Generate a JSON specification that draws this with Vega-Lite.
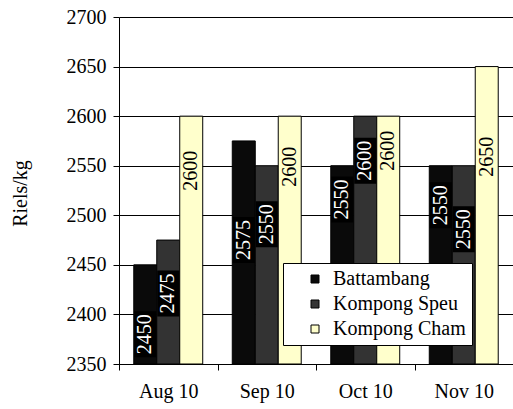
{
  "$schema": "https://vega.github.io/schema/vega-lite/v6.json",
  "autosize": {"type": "none"},
  "padding": {"left": 119, "top": 17, "right": 0, "bottom": 45},
  "width": 394,
  "height": 347,
  "background": "white",
  "config": {
    "view": {"stroke": null},
    "font": "Liberation Serif",
    "axis": {
      "labelFont": "Liberation Serif",
      "labelFontSize": 20,
      "labelColor": "black",
      "titleFont": "Liberation Serif",
      "titleFontSize": 20,
      "titleFontWeight": "normal",
      "titleColor": "black",
      "domainColor": "black",
      "tickColor": "black",
      "tickSize": 6,
      "gridColor": "black",
      "gridOpacity": 1
    },
    "legend": {
      "labelFont": "Liberation Serif",
      "labelFontSize": 20,
      "labelColor": "black"
    }
  },
  "data": {
    "values": [
      {"month": "Aug 10", "region": "Battambang", "price": 2450, "labelAt": 2380},
      {"month": "Aug 10", "region": "Kompong Speu", "price": 2475, "labelAt": 2421},
      {"month": "Aug 10", "region": "Kompong Cham", "price": 2600, "labelAt": 2545},
      {"month": "Sep 10", "region": "Battambang", "price": 2575, "labelAt": 2475},
      {"month": "Sep 10", "region": "Kompong Speu", "price": 2550, "labelAt": 2491},
      {"month": "Sep 10", "region": "Kompong Cham", "price": 2600, "labelAt": 2549},
      {"month": "Oct 10", "region": "Battambang", "price": 2550, "labelAt": 2516},
      {"month": "Oct 10", "region": "Kompong Speu", "price": 2600, "labelAt": 2555},
      {"month": "Oct 10", "region": "Kompong Cham", "price": 2600, "labelAt": 2565},
      {"month": "Nov 10", "region": "Battambang", "price": 2550, "labelAt": 2510},
      {"month": "Nov 10", "region": "Kompong Speu", "price": 2550, "labelAt": 2486},
      {"month": "Nov 10", "region": "Kompong Cham", "price": 2650, "labelAt": 2559}
    ]
  },
  "encoding": {
    "x": {
      "field": "month",
      "type": "nominal",
      "sort": ["Aug 10", "Sep 10", "Oct 10", "Nov 10"],
      "scale": {"paddingInner": 0, "paddingOuter": 0},
      "axis": {
        "title": null,
        "labelAngle": 0,
        "tickBand": "extent",
        "labelPadding": 11
      }
    },
    "xOffset": {
      "field": "region",
      "type": "nominal",
      "sort": ["Battambang", "Kompong Speu", "Kompong Cham"],
      "scale": {"paddingInner": 0, "paddingOuter": 0.643}
    }
  },
  "layer": [
    {
      "mark": {"type": "bar", "stroke": "black", "strokeWidth": 1},
      "encoding": {
        "y": {
          "field": "price",
          "type": "quantitative",
          "scale": {"domain": [2350, 2700], "nice": false, "zero": false},
          "axis": {
            "values": [2350, 2400, 2450, 2500, 2550, 2600, 2650, 2700],
            "format": "d",
            "title": "Riels/kg",
            "titleX": -99,
            "titleY": 176,
            "titleAngle": 270,
            "titleAlign": "center",
            "titleBaseline": "middle",
            "labelPadding": 7,
            "grid": true
          }
        },
        "y2": {"datum": 2350},
        "color": {
          "field": "region",
          "type": "nominal",
          "sort": ["Battambang", "Kompong Speu", "Kompong Cham"],
          "scale": {
            "domain": ["Battambang", "Kompong Speu", "Kompong Cham"],
            "range": ["#0a0a0a", "#333333", "#FFFFCC"]
          },
          "legend": {
            "title": null,
            "orient": "none",
            "legendX": 164,
            "legendY": 246,
            "padding": 6,
            "rowPadding": 5,
            "symbolType": "square",
            "symbolSize": 64,
            "symbolStrokeColor": "black",
            "symbolStrokeWidth": 1,
            "symbolOffset": 16,
            "labelOffset": 8,
            "fillColor": "white",
            "strokeColor": "black",
            "labelExpr": "datum.label + '   '"
          }
        }
      }
    },
    {
      "transform": [{"filter": "datum.region !== 'Kompong Cham'"}],
      "mark": {
        "type": "point",
        "shape": "M-0.48,-1L0.48,-1L0.48,1L-0.48,1Z",
        "filled": true,
        "size": 2116,
        "color": "black",
        "opacity": 1
      },
      "encoding": {
        "y": {"field": "labelAt", "type": "quantitative"}
      }
    },
    {
      "mark": {
        "type": "text",
        "angle": 270,
        "align": "center",
        "baseline": "middle",
        "font": "Liberation Serif",
        "fontSize": 20
      },
      "encoding": {
        "y": {"field": "labelAt", "type": "quantitative"},
        "text": {"field": "price", "type": "quantitative", "format": "d"},
        "color": {
          "condition": {"test": "datum.region === 'Kompong Cham'", "value": "black"},
          "value": "white"
        }
      }
    }
  ]
}
